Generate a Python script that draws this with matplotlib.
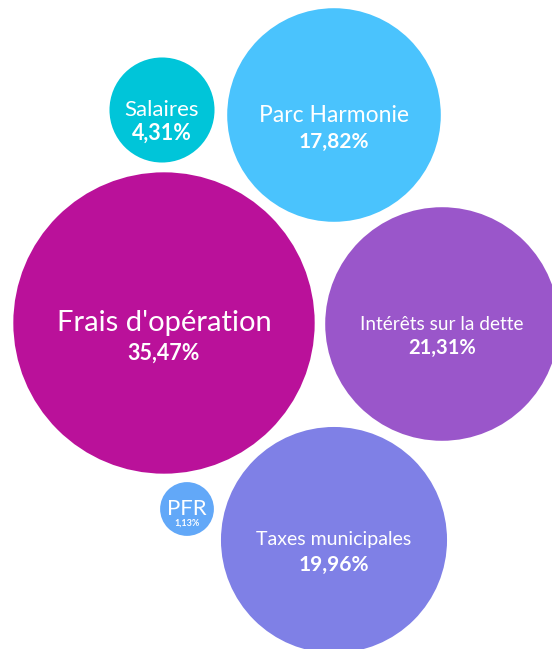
import matplotlib.pyplot as plt
from matplotlib.patches import Circle
import numpy as np

#######################################
# DATA

labels = ["Frais d'opération", "Parc Harmonie", "Salaires",
          "Intérêts sur la dette", "Taxes municipales", "PFR"]
shares = [35.47, 17.82, 4.31, 21.31, 19.96, 1.13]

# bubble layout (pixel coords, y down) and styling
centers = [(164, 323), (334, 115), (162, 110), (442, 324), (334, 540), (187, 509)]
colors = ["#BA119A", "#4AC3FD", "#00C5D9", "#9A56CA", "#7F80E6", "#62A8F8"]
label_sizes = [21, 16.5, 16, 13.7, 14, 16]
value_sizes = [15.5, 15, 15.5, 14.5, 15, 6.5]
value_gaps = [30, 27, 23, 24, 25, 14]

# radius ~ sqrt(share), area proportional
k = 25.3

#######################################
# PLOT

plt.rcParams['font.family'] = ['Lato', 'DejaVu Sans']

fig = plt.figure(figsize=(5.52, 6.49), dpi=100)
ax = fig.add_axes([0, 0, 1, 1])
ax.set_xlim(0, 552)
ax.set_ylim(649, 0)
ax.set_aspect('equal')
ax.axis('off')

for lab, val, (cx, cy), c, ls, vs, gap in zip(labels, shares, centers, colors,
                                              label_sizes, value_sizes, value_gaps):
    r = k*np.sqrt(val)
    ax.add_patch(Circle((cx, cy), r, color=c, lw=0))
    ax.text(cx, cy, lab, ha='center', va='center', color='white',
            fontsize=ls, fontweight='normal')
    pct = f"{val:.2f}%".replace('.', ',')
    ax.text(cx, cy + gap, pct, ha='center', va='center', color='white',
            fontsize=vs, fontweight='bold')

fig.savefig("out.png", dpi=100)
